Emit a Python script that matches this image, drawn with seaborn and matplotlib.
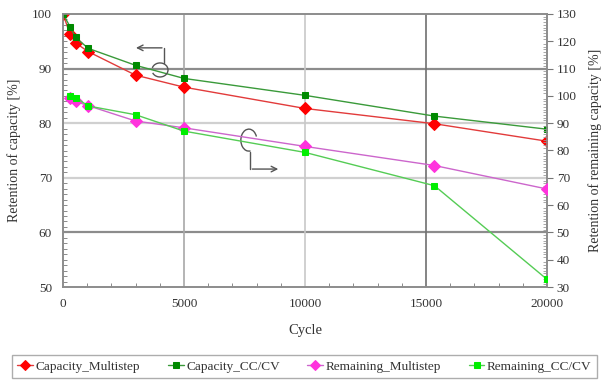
import matplotlib
matplotlib.use("Agg")
import matplotlib.pyplot as plt
from matplotlib.patches import Arc
from matplotlib.ticker import MultipleLocator
import seaborn as sns

# cycles
cycles_cap = [0, 290, 520, 1045, 3000, 5000, 10000, 15350, 20000]
cycles_rem = [290, 520, 1045, 3000, 5000, 10000, 15350, 20000]

# retention of capacity [%] (left axis)
capacity_multistep = [100, 96.3, 94.7, 93.1, 88.8, 86.6, 82.7, 79.9, 76.7]
capacity_cccv = [100, 97.7, 95.7, 93.7, 90.6, 88.2, 85.1, 81.3, 78.9]

# retention of remaining capacity [%] (right axis)
remaining_multistep = [99.4, 98.0, 96.4, 90.8, 88.3, 81.5, 74.5, 65.9]
remaining_cccv = [100.0, 99.4, 96.3, 93.1, 87.1, 79.3, 67.1, 32.8]

sns.set_style("white")
plt.rcParams['font.family'] = ['Liberation Serif', 'DejaVu Serif']
plt.rcParams['font.size'] = 10

fig = plt.figure(figsize=(6.04, 3.80), dpi=100)
ax = fig.add_axes([63 / 604, 1 - 287 / 380, (547 - 63) / 604, (287 - 14) / 380])
ax2 = ax.twinx()

# grid lines
for y, c in [(90, '#8c8c8c'), (80, '#d0d0d0'), (70, '#d0d0d0'), (60, '#8c8c8c')]:
    ax.axhline(y, color=c, lw=1.6, zorder=0)
for x, c in [(5000, '#a8a8a8'), (10000, '#c8c8c8'), (15000, '#707070')]:
    ax.axvline(x, color=c, lw=1.2, zorder=0)

sns.lineplot(x=cycles_cap, y=capacity_multistep, ax=ax, color='#e23b3b', lw=1,
             marker='D', markersize=6, markerfacecolor='#ff0000', markeredgecolor='#ff0000',
             label='Capacity_Multistep', legend=False, zorder=3)
sns.lineplot(x=cycles_cap, y=capacity_cccv, ax=ax, color='#3a9a3a', lw=1,
             marker='s', markersize=5, markerfacecolor='#008a00', markeredgecolor='#008a00',
             label='Capacity_CC/CV', legend=False, zorder=3)
sns.lineplot(x=cycles_rem, y=remaining_multistep, ax=ax2, color='#cc66cc', lw=1,
             marker='D', markersize=6, markerfacecolor='#ff33dd', markeredgecolor='#ff33dd',
             label='Remaining_Multistep', legend=False, zorder=3)
sns.lineplot(x=cycles_rem, y=remaining_cccv, ax=ax2, color='#55cc55', lw=1,
             marker='s', markersize=5, markerfacecolor='#00ee00', markeredgecolor='#00ee00',
             label='Remaining_CC/CV', legend=False, zorder=3)

ax.set_xlim(0, 20000)
ax.set_ylim(50, 100)
ax2.set_ylim(30, 130)
ax.xaxis.set_major_locator(MultipleLocator(5000))
ax.xaxis.set_minor_locator(MultipleLocator(1000))
ax.yaxis.set_major_locator(MultipleLocator(10))
ax.yaxis.set_minor_locator(MultipleLocator(1))
ax2.yaxis.set_major_locator(MultipleLocator(10))
ax2.yaxis.set_minor_locator(MultipleLocator(1))

ax.tick_params(axis='both', which='major', direction='in', length=0, labelsize=9.5,
               colors='#333333', pad=8)
ax.tick_params(axis='y', which='minor', direction='in', length=3, color='#777777', left=True)
ax.tick_params(axis='x', which='minor', direction='in', length=3, color='#777777', bottom=True)
ax2.tick_params(axis='y', which='major', direction='out', length=4, color='#777777',
                labelsize=9.5, labelcolor='#333333', pad=3)
ax2.tick_params(axis='y', which='minor', direction='in', length=3, color='#999999', right=True)

for a in (ax, ax2):
    for s in a.spines.values():
        s.set_color('#8c8c8c')
        s.set_linewidth(1.2)

ax.set_xlabel('Cycle', fontsize=10.5, color='#333333', labelpad=10)
ax.set_ylabel('Retention of capacity [%]', fontsize=10, color='#333333', labelpad=8)
ax2.set_ylabel('Retention of remaining capacity [%]', fontsize=10, color='#333333', labelpad=8)

# axes size in pixels, so circles stay round
ax_w, ax_h = 484.0, 273.0

# annotation: circle with arrow to the left axis
ax.add_patch(Arc((0.2004, 0.795), 16 / ax_w, 14 / ax_h, theta1=-145, theta2=155,
                 transform=ax.transAxes, color='#555555', lw=1, zorder=4))
ax.plot([4186, 4186], [91.0, 93.8], color='#555555', lw=1, zorder=4)
ax.annotate('', xy=(2900, 93.8), xytext=(4206, 93.8),
            arrowprops=dict(arrowstyle='->', color='#555555', lw=1), zorder=4)

# annotation: circle with arrow to the right axis
ax.add_patch(Arc((0.384, 0.538), 16 / ax_w, 22 / ax_h, theta1=40, theta2=275,
                 transform=ax.transAxes, color='#555555', lw=1, zorder=4))
ax.plot([7727, 7727], [74.8, 71.6], color='#555555', lw=1, zorder=4)
ax.annotate('', xy=(9010, 71.6), xytext=(7707, 71.6),
            arrowprops=dict(arrowstyle='->', color='#555555', lw=1), zorder=4)

h1, l1 = ax.get_legend_handles_labels()
h2, l2 = ax2.get_legend_handles_labels()
leg = fig.legend(h1 + h2, l1 + l2, loc='lower left', ncol=4,
                 bbox_to_anchor=(12 / 604, 2 / 380, 585 / 604, 26 / 380), mode='expand',
                 frameon=True, fancybox=False, edgecolor='#999999', fontsize=9.5,
                 handlelength=1.2, handletextpad=0.2, borderaxespad=0, columnspacing=1.0,
                 markerscale=0.8)
leg.get_frame().set_linewidth(1)
for t in leg.get_texts():
    t.set_color('#333333')

fig.savefig('out.png', dpi=100)
